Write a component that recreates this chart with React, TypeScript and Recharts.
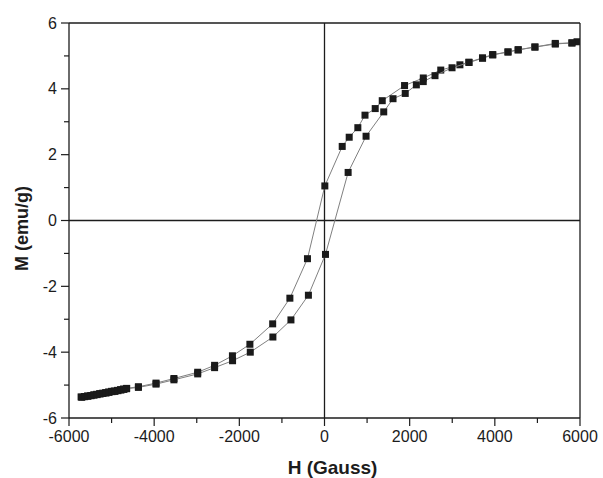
import React from 'react';
import { ScatterChart, Scatter, XAxis, YAxis, ReferenceLine, Label } from 'recharts';

// Descending branch (from +H to -H)
const upperH = [5930, 5810, 5420, 4940, 4550, 4310, 3950, 3710, 3390, 3180, 2730, 2320, 1880, 1356, 1191, 951, 783, 580, 416, 8, -400, -813, -1217, -1752, -2162, -2581, -2978, -3536, -3956, -4370, -4645, -4720, -4790, -4860, -4935, -5000, -5070, -5140, -5215, -5280, -5350, -5420, -5490, -5565, -5640, -5716];
const upperM = [5.43, 5.40, 5.36, 5.27, 5.19, 5.12, 5.04, 4.94, 4.81, 4.73, 4.57, 4.33, 4.10, 3.64, 3.40, 3.20, 2.82, 2.53, 2.25, 1.05, -1.16, -2.36, -3.14, -3.76, -4.11, -4.40, -4.61, -4.80, -4.94, -5.05, -5.10, -5.12, -5.14, -5.16, -5.18, -5.19, -5.21, -5.23, -5.25, -5.26, -5.28, -5.30, -5.32, -5.33, -5.35, -5.36];

// Ascending branch (from -H to +H)
const lowerH = [-5700, -5630, -5555, -5480, -5410, -5340, -5270, -5200, -5130, -5060, -4990, -4920, -4850, -4780, -4710, -4650, -4370, -3956, -3536, -2978, -2581, -2159, -1743, -1212, -788, -378, 23, 555, 976, 1391, 1609, 1896, 2157, 2319, 2595, 2995, 3394, 3712, 3951, 4308, 4546, 4943, 5419, 5811];
const lowerM = [-5.37, -5.35, -5.34, -5.32, -5.30, -5.29, -5.27, -5.25, -5.24, -5.22, -5.20, -5.19, -5.17, -5.15, -5.13, -5.11, -5.07, -4.97, -4.84, -4.66, -4.47, -4.26, -4.00, -3.54, -3.02, -2.27, -1.03, 1.46, 2.56, 3.30, 3.70, 3.86, 4.12, 4.22, 4.40, 4.64, 4.80, 4.93, 5.03, 5.12, 5.18, 5.27, 5.38, 5.39];

const xTicks = [-6000, -5000, -4000, -3000, -2000, -1000, 0, 1000, 2000, 3000, 4000, 5000, 6000];
const yTicks = [-6, -5, -4, -3, -2, -1, 0, 1, 2, 3, 4, 5, 6];

const upperData = upperH.map((h, i) => ({ h, m: upperM[i] }));
const lowerData = lowerH.map((h, i) => ({ h, m: lowerM[i] }));

const FONT = '"Liberation Sans", Arial, sans-serif';
const INK = '#1c1c1c';

const XTick = (props: any) => {
  const { x, y, payload } = props;
  const major = payload.value % 2000 === 0;
  return (
    <g>
      <line x1={x} x2={x} y1={y} y2={y + (major ? 8 : 5)} stroke={INK} strokeWidth={1.2} />
      {major && (
        <text x={x} y={y + 24} textAnchor="middle" fontSize={16} fill={INK} fontFamily={FONT}>
          {payload.value}
        </text>
      )}
    </g>
  );
};

const YTick = (props: any) => {
  const { x, y, payload } = props;
  const major = payload.value % 2 === 0;
  return (
    <g>
      <line x1={x - (major ? 8 : 5)} x2={x} y1={y} y2={y} stroke={INK} strokeWidth={1.2} />
      {major && (
        <text x={x - 12} y={y + 5.5} textAnchor="end" fontSize={16} fill={INK} fontFamily={FONT}>
          {payload.value}
        </text>
      )}
    </g>
  );
};

const Square = (p: any) => (
  <rect x={p.cx - 3.5} y={p.cy - 3.5} width={7} height={7} fill="#1a1a1a" />
);

export default function App() {
  return (
    <div style={{ position: 'absolute', left: 0, top: 0, width: 603, height: 478, background: '#fff' }}>
      <ScatterChart width={603} height={478} margin={{ top: 23, right: 23, bottom: 0, left: 0 }}>
        <XAxis
          type="number"
          dataKey="h"
          domain={[-6000, 6000]}
          ticks={xTicks}
          interval={0}
          tick={<XTick />}
          tickLine={false}
          tickSize={0}
          tickMargin={0}
          axisLine={{ stroke: INK, strokeWidth: 1.3 }}
          height={60}
          allowDataOverflow
        >
          <Label
            content={(p: any) => {
              const vb = p.viewBox;
              return (
                <text x={vb.x + vb.width / 2 + 8} y={474} textAnchor="middle" fontSize={19} fontWeight="bold" fill={INK} fontFamily={FONT}>
                  H (Gauss)
                </text>
              );
            }}
          />
        </XAxis>
        <YAxis
          type="number"
          dataKey="m"
          domain={[-6, 6]}
          ticks={yTicks}
          interval={0}
          tick={<YTick />}
          tickLine={false}
          tickSize={0}
          tickMargin={0}
          axisLine={{ stroke: INK, strokeWidth: 1.3 }}
          width={69}
          allowDataOverflow
        >
          <Label
            content={(p: any) => {
              const vb = p.viewBox;
              const cy = vb.y + vb.height / 2 + 8;
              return (
                <text x={23} y={cy} transform={`rotate(-90 23 ${cy})`} textAnchor="middle" dominantBaseline="middle" fontSize={18} fontWeight="bold" fill={INK} fontFamily={FONT}>
                  M (emu/g)
                </text>
              );
            }}
          />
        </YAxis>
        <ReferenceLine y={6} stroke={INK} strokeWidth={1.3} />
        <ReferenceLine x={6000} stroke={INK} strokeWidth={1.3} />
        <ReferenceLine y={0} stroke={INK} strokeWidth={1.3} />
        <ReferenceLine x={0} stroke={INK} strokeWidth={1.3} />
        <Scatter
          data={upperData}
          line={{ stroke: '#808080', strokeWidth: 1 }}
          lineType="joint"
          shape={Square}
          isAnimationActive={false}
        />
        <Scatter
          data={lowerData}
          line={{ stroke: '#808080', strokeWidth: 1 }}
          lineType="joint"
          shape={Square}
          isAnimationActive={false}
        />
      </ScatterChart>
    </div>
  );
}
